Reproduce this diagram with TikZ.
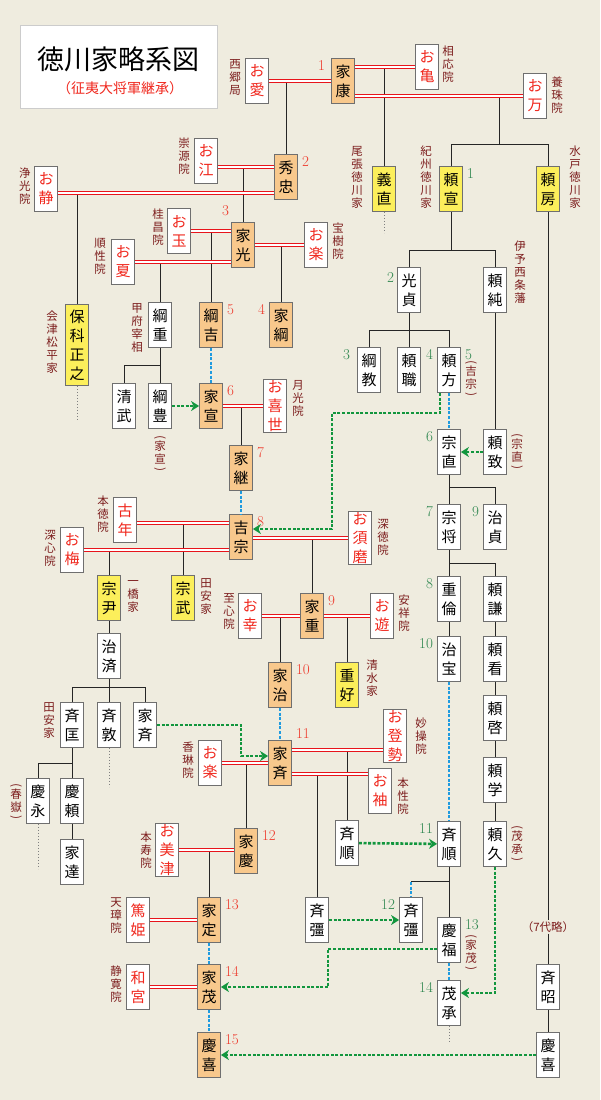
\documentclass[tikz,border=0pt]{standalone}
\usepackage{fontspec}
\newfontfamily\jp{Noto Sans CJK JP}
\usepackage{graphicx}
\usepackage{tikz}
\usetikzlibrary{arrows.meta,positioning,calc}
\usepackage{xcolor}
\definecolor{bgcol}{HTML}{EFECDF}
\definecolor{shogunfill}{HTML}{F8C88C}
\definecolor{branchfill}{HTML}{FCEF5B}
\definecolor{boxgray}{HTML}{6F6F6F}
\definecolor{wifered}{HTML}{F0281E}
\definecolor{lblred}{HTML}{7D1E1E}
\definecolor{numred}{HTML}{EE3A2C}
\definecolor{numgreen}{HTML}{2F8750}
\definecolor{coupred}{HTML}{E8141B}
\definecolor{succblue}{HTML}{1F9BDF}
\definecolor{adoptgreen}{HTML}{12963E}
\newcommand{\vopen}{\rotatebox{90}{)}}
\newcommand{\vclose}{\rotatebox{90}{(}}

\begin{document}
\begin{tikzpicture}[
			x=1pt, y=-1pt,
			box/.style={draw=boxgray, line width=0.8pt, fill=white, minimum width=23pt, minimum height=45pt, inner sep=1pt, align=center, font=\jp\fontsize{15}{19}\selectfont},
			shogun/.style={box, fill=shogunfill},
			branch/.style={box, fill=branchfill},
			wife/.style={box, text=wifered},
			lbl/.style={text=lblred, align=center, inner sep=1pt, font=\jp\fontsize{11.5}{13}\selectfont},
			num/.style={text=numred, inner sep=1pt, font=\fontsize{15}{15}\selectfont},
			knum/.style={num, text=numgreen},
			numR/.style={label={[num,anchor=north west,xshift=3pt,yshift=-1pt]north east:#1}},
			numL/.style={label={[num,anchor=north east,xshift=-3pt,yshift=-1pt]north west:#1}},
			knumR/.style={label={[knum,anchor=north west,xshift=3pt,yshift=-1pt]north east:#1}},
			knumL/.style={label={[knum,anchor=north east,xshift=-3pt,yshift=-1pt]north west:#1}},
			titlebox/.style={draw=black!20, fill=white, minimum width=197pt, minimum height=83pt},
			line/.style={draw=black!85, line width=0.9pt},
			couple/.style={draw=coupred, line width=1pt, double=white, double distance=1.2pt},
			succ/.style={draw=succblue, line width=2.6pt, dash pattern=on 3pt off 1.6pt},
			adopt/.style={draw=adoptgreen, line width=2.6pt, dash pattern=on 3pt off 1.6pt, -{Stealth[length=8pt,width=10pt,inset=2.5pt]}},
			cont/.style={draw=black!50, line width=1pt, dash pattern=on 1pt off 2pt}
			]
			\useasboundingbox (0,0) rectangle (600,1100);
			\fill[bgcol] (0,0) rectangle (600,1100);
			
			\node[titlebox] (title) at (118.5,66.5) {};
			\node[font=\jp\fontsize{27}{30}\selectfont] (titletext) at (118.5,59.5) {徳川家略系図};
			\node[text=wifered, font=\jp\fontsize{14}{16}\selectfont] (subtitle) at (120,88) {（征夷大将軍継承）};
			
			\node[shogun, label={[num,anchor=north east,xshift=-5pt,yshift=-1pt]north west:1}] (ieyasu) at (343,81) {家\\康};
			\node[shogun, numR=2] (hidetada) at (286,177) {秀\\忠};
			\node[shogun, label={[num,anchor=south east,xshift=-1pt,yshift=5pt]north west:3}] (iemitsu) at (243,245) {家\\光};
			\node[shogun, numL=4] (ietsuna) at (281,325) {家\\綱};
			\node[shogun, numR=5] (tsunayoshi) at (211,325) {綱\\吉};
			\node[shogun, numR=6] (ienobu) at (211,406) {家\\宣};
			\node[shogun, numR=7] (ietsugu) at (241,468) {家\\継};
			\node[shogun, numR=8] (yoshimune) at (241,537) {吉\\宗};
			\node[shogun, numR=9] (ieshige) at (312,616) {家\\重};
			\node[shogun, numR=10] (ieharu) at (280,685) {家\\治};
			\node[shogun, label={[num,anchor=south west,xshift=3pt]north east:11}] (ienari) at (280,763) {家\\斉};
			\node[shogun, numR=12] (ieyoshi) at (246,851) {家\\慶};
			\node[shogun, numR=13] (iesada) at (209,920) {家\\定};
			\node[shogun, numR=14] (iemochi) at (209,987) {家\\茂};
			\node[shogun, numR=15] (yoshinobu) at (209,1055) {慶\\喜};
			
			\node[branch] (yoshinao) at (384,189) {義\\直};
			\node[branch, knumR=1] (yorinobu) at (451,189) {頼\\宣};
			\node[branch] (yorifusa) at (548,189) {頼\\房};
			\node[branch, minimum height=81pt] (masayuki) at (77,345) {保\\科\\正\\之};
			\node[branch] (munetada) at (109,598) {宗\\尹};
			\node[branch] (munetake) at (183,598) {宗\\武};
			\node[branch] (shigeyoshi) at (347,685) {重\\好};
			
			\node[wife] (oai) at (257,81) {お\\愛};
			\node[wife] (okame) at (427,67) {お\\亀};
			\node[wife] (oman) at (535,96) {お\\万};
			\node[wife] (oe) at (206,161) {お\\江};
			\node[wife] (oshizu) at (46,189) {お\\静};
			\node[wife] (otama) at (179,231) {お\\玉};
			\node[wife] (onatsu) at (123,262) {お\\夏};
			\node[wife] (oraku) at (316,245) {お\\楽};
			\node[wife] (okiyo) at (275,406) {お\\喜\\世};
			\node[wife] (konen) at (125,520) {古\\年};
			\node[wife] (oume) at (72,550) {お\\梅};
			\node[wife] (osuma) at (360,538) {お\\須\\磨};
			\node[wife] (okou) at (250,616) {お\\幸};
			\node[wife] (oyuu) at (382,616) {お\\遊};
			\node[wife] (oraku2) at (210,763) {お\\楽};
			\node[wife] (otose) at (395,736) {お\\登\\勢};
			\node[wife] (osode) at (380,791) {お\\袖};
			\node[wife] (omitsu) at (167,850) {お\\美\\津};
			\node[wife] (atsuhime) at (138,920) {篤\\姫};
			\node[wife] (kazunomiya) at (138,987) {和\\宮};
			
			\node[box] (tsunashige) at (160,325) {綱\\重};
			\node[box] (kiyotake) at (124,406) {清\\武};
			\node[box] (tsunatoyo) at (160,406) {綱\\豊};
			\node[box] (harunari) at (109,656) {治\\済};
			\node[box] (narimasa) at (72,725) {斉\\匡};
			\node[box] (naritoshi) at (109,725) {斉\\敦};
			\node[box] (ienari0) at (145,725) {家\\斉};
			\node[box] (yoshinaga) at (38,801) {慶\\永};
			\node[box] (yoshiyori) at (72,801) {慶\\頼};
			\node[box] (iesato) at (72,862) {家\\達};
			\node[box] (nariyuki0) at (347,843) {斉\\順};
			\node[box] (narikatsu0) at (317,920) {斉\\彊};
			
			\node[box, label={[knum,anchor=north east,xshift=-2pt,yshift=-4pt]north west:2}] (mitsusada) at (409,290) {光\\貞};
			\node[box] (yorizumi) at (495,290) {頼\\純};
			\node[box, label={[knum,anchor=north east,xshift=-6pt,yshift=-1pt]north west:3}] (tsunanori) at (369,370) {綱\\教};
			\node[box] (yorimoto) at (409,370) {頼\\職};
			\node[box, knumL=4, knumR=5] (yorikata) at (449,370) {頼\\方};
			\node[box, knumL=6] (munenao) at (449,452) {宗\\直};
			\node[box] (yorimichi) at (495,452) {頼\\致};
			\node[box, knumL=7] (munenobu) at (449,527) {宗\\将};
			\node[box, knumL=9] (harusada) at (495,527) {治\\貞};
			\node[box, knumL=8] (shigenori) at (449,599) {重\\倫};
			\node[box] (yorikane) at (495,599) {頼\\謙};
			\node[box, knumL=10] (harutomi) at (449,659) {治\\宝};
			\node[box] (yorimi) at (495,659) {頼\\看};
			\node[box] (yorihiro) at (495,718) {頼\\啓};
			\node[box] (yorinori) at (495,780) {頼\\学};
			\node[box, knumL=11] (nariyuki) at (449,844) {斉\\順};
			\node[box] (yorihisa) at (495,844) {頼\\久};
			\node[box, knumL=12] (narikatsu) at (411,920) {斉\\彊};
			\node[box, knumR=13] (yoshitomi) at (449,940) {慶\\福};
			\node[box, knumL=14] (mochitsugu) at (449,1003) {茂\\承};
			\node[box] (nariaki) at (548,987) {斉\\昭};
			\node[box] (yoshinobu0) at (548,1055) {慶\\喜};
			
			\node[lbl] (saigo) at (235,78) {西\\郷\\局};
			\node[lbl] (soo) at (448,64) {相\\応\\院};
			\node[lbl] (yoju) at (557,95) {養\\珠\\院};
			\node[lbl] (sugen) at (184,156) {崇\\源\\院};
			\node[lbl] (joko) at (25,186) {浄\\光\\院};
			\node[lbl] (keisho) at (158,227) {桂\\昌\\院};
			\node[lbl] (junsho) at (100,256) {順\\性\\院};
			\node[lbl] (hoju) at (338,241) {宝\\樹\\院};
			\node[lbl] (owari) at (357,177) {尾\\張\\徳\\川\\家};
			\node[lbl] (kishu) at (426,177) {紀\\州\\徳\\川\\家};
			\node[lbl] (mito) at (575,177) {水\\戸\\徳\\川\\家};
			\node[lbl] (iyo) at (520,272) {伊\\予\\西\\条\\藩};
			\node[lbl] (aizu) at (52,342) {会\\津\\松\\平\\家};
			\node[lbl] (kofu) at (137,328) {甲\\府\\宰\\相};
			\node[lbl] (p-ienobu) at (160,454) {\vopen\\[-2pt]家\\宣\\[-5pt]\vclose};
			\node[lbl] (gekko) at (298,398) {月\\光\\院};
			\node[lbl] (hontoku) at (103,514) {本\\徳\\院};
			\node[lbl] (shinshin) at (50,548) {深\\心\\院};
			\node[lbl] (shintoku) at (383,537) {深\\徳\\院};
			\node[lbl] (tayasu) at (206,597) {田\\安\\家};
			\node[lbl] (hitotsu) at (133,596) {一\\橋\\家};
			\node[lbl] (shishin) at (229,611) {至\\心\\院};
			\node[lbl] (anjo) at (404,613) {安\\祥\\院};
			\node[lbl] (shimizu) at (372,678) {清\\水\\家};
			\node[lbl] (tayasu2) at (49,721) {田\\安\\家};
			\node[lbl] (p-shungaku) at (16,802) {\vopen\\[-2pt]春\\嶽\\[-5pt]\vclose};
			\node[lbl] (korin) at (188,760) {香\\琳\\院};
			\node[lbl] (myoso) at (421,736) {妙\\操\\院};
			\node[lbl] (honsho) at (403,796) {本\\性\\院};
			\node[lbl] (honju) at (146,850) {本\\寿\\院};
			\node[lbl] (tensho) at (116,916) {天\\璋\\院};
			\node[lbl] (seikan) at (116,984) {静\\寛\\院};
			\node[lbl] (p-yoshimune) at (471,379) {\vopen\\[-2pt]吉\\宗\\[-5pt]\vclose};
			\node[lbl] (p-munenao) at (517,452) {\vopen\\[-2pt]宗\\直\\[-5pt]\vclose};
			\node[lbl] (p-mochitsugu) at (517,844) {\vopen\\[-2pt]茂\\承\\[-5pt]\vclose};
			\node[lbl] (p-iemochi) at (471,953) {\vopen\\[-2pt]家\\茂\\[-5pt]\vclose};
			\node[lbl] (ryaku) at (548,927) {（7代略）};
			
			\coordinate (m-oe) at ([yshift=-6pt]oe.east);
			\coordinate (m-oshizu) at ([yshift=-4pt]oshizu.east);
			\coordinate (m-konen) at ([yshift=-3pt]konen.east);
			\coordinate (m-otose) at ([yshift=-14pt]otose.west);
			\coordinate (m-osode) at ([yshift=17pt]osode.west);
			\coordinate (kf) at ($(yorinobu.north)!.5!(yorifusa.north)+(0,-22)$);
			\coordinate (nf) at ($(nariyuki.south)+(0,15)$);
			
			\draw[line] (hidetada.north) -- (hidetada.north |- oai.east);
			\draw[line] (yoshinao.north) -- (yoshinao.north |- okame.west);
			\draw[line] (kf |- oman.west) -- (kf);
			\draw[line] (yorinobu.north) |- (kf) -| (yorifusa.north);
			\draw[line] (iemitsu.north) -- (iemitsu.north |- m-oe);
			\draw[line] (masayuki.north) -- (masayuki.north |- m-oshizu);
			\draw[line] (tsunayoshi.north) -- (tsunayoshi.north |- otama.east);
			\draw[line] (tsunashige.north) -- (tsunashige.north |- onatsu.east);
			\draw[line] (ietsuna.north) -- (ietsuna.north |- oraku.west);
			\draw[line] (tsunashige) -- (tsunatoyo);
			\draw[line] (kiyotake.north) |- ($(tsunashige.south)!.5!(tsunatoyo.north)$);
			\draw[line] (ietsugu.north) -- (ietsugu.north |- okiyo.west);
			\draw[line] (munetake.north) -- (munetake.north |- m-konen);
			\draw[line] (munetada.north) -- (munetada.north |- oume.east);
			\draw[line] (ieshige.north) -- (ieshige.north |- osuma.west);
			\draw[line] (munetada) -- (harunari);
			\draw[line] (harunari) -- (naritoshi);
			\draw[line] (narimasa.north) |- ($(harunari.south)+(0,9)$) -| (ienari0.north);
			\draw[line] (narimasa) -- (yoshiyori);
			\draw[line] (yoshinaga.north) |- ($(narimasa.south)+(0,16)$);
			\draw[line] (yoshiyori) -- (iesato);
			\draw[line] (ieharu.north) -- (ieharu.north |- okou.east);
			\draw[line] (shigeyoshi.north) -- (shigeyoshi.north |- oyuu.west);
			\draw[line] (ieyoshi.north) -- (ieyoshi.north |- oraku2.east);
			\draw[line] (nariyuki0.north) -- (nariyuki0.north |- m-otose);
			\draw[line] (narikatsu0.north) -- (narikatsu0.north |- m-osode);
			\draw[line] (iesada.north) -- (iesada.north |- omitsu.east);
			\draw[line] (yorinobu) -- ($(yorinobu.south)+(0,39)$);
			\draw[line] (mitsusada.north) |- ($(yorinobu.south)+(0,39)$) -| (yorizumi.north);
			\draw[line] (mitsusada) -- (yorimoto);
			\draw[line] (tsunanori.north) |- ($(mitsusada.south)+(0,18)$) -| (yorikata.north);
			\draw[line] (yorizumi) -- (yorimichi);
			\draw[line] (munenao) -- (munenobu);
			\draw[line] ($(munenao.south)+(0,13)$) -| (harusada.north);
			\draw[line] (munenobu) -- (shigenori);
			\draw[line] ($(munenobu.south)+(0,14)$) -| (yorikane.north);
			\draw[line] (shigenori) -- (harutomi);
			\draw[line] (yorikane) -- (yorimi);
			\draw[line] (yorimi) -- (yorihiro);
			\draw[line] (yorihiro) -- (yorinori);
			\draw[line] (yorinori) -- (yorihisa);
			\draw[line] (nariyuki) -- (yoshitomi);
			\draw[line] (nf) -- (nf -| narikatsu.north);
			\draw[line] (yorifusa) -- (ryaku);
			\draw[line] (ryaku) -- (nariaki);
			\draw[line] (nariaki) -- (yoshinobu0);
			
			\draw[couple] (oai) -- (ieyasu);
			\draw[couple] (okame.west) -- (okame.west -| ieyasu.east);
			\draw[couple] (oman.west) -- (oman.west -| ieyasu.east);
			\draw[couple] (m-oe) -- (m-oe -| hidetada.west);
			\draw[couple] (m-oshizu) -- (m-oshizu -| hidetada.west);
			\draw[couple] (otama.east) -- (otama.east -| iemitsu.west);
			\draw[couple] (onatsu.east) -- (onatsu.east -| iemitsu.west);
			\draw[couple] (iemitsu) -- (oraku);
			\draw[couple] (ienobu) -- (okiyo);
			\draw[couple] (m-konen) -- (m-konen -| yoshimune.west);
			\draw[couple] (oume.east) -- (oume.east -| yoshimune.west);
			\draw[couple] (osuma.west) -- (osuma.west -| yoshimune.east);
			\draw[couple] (okou) -- (ieshige);
			\draw[couple] (ieshige) -- (oyuu);
			\draw[couple] (oraku2) -- (ienari);
			\draw[couple] (m-otose) -- (m-otose -| ienari.east);
			\draw[couple] (m-osode) -- (m-osode -| ienari.east);
			\draw[couple] (omitsu.east) -- (omitsu.east -| ieyoshi.west);
			\draw[couple] (atsuhime) -- (iesada);
			\draw[couple] (kazunomiya) -- (iemochi);
			
			\draw[succ] (tsunayoshi) -- (ienobu);
			\draw[succ] (ietsugu) -- (yoshimune);
			\draw[succ] (ieharu) -- (ienari);
			\draw[succ] (iesada) -- (iemochi);
			\draw[succ] (iemochi) -- (yoshinobu);
			\draw[succ] (yorikata) -- (munenao);
			\draw[succ] (harutomi) -- (nariyuki);
			\draw[succ] (yoshitomi) -- (mochitsugu);
			\draw[succ] (nf -| narikatsu.north) -- (narikatsu.north);
			
			\draw[adopt] (tsunatoyo) -- (ienobu);
			\draw[adopt] ([xshift=-9pt]yorikata.south) -- ++(0,20) -- ++(-108,0) |- ([yshift=8pt]yoshimune.east);
			\draw[adopt] (yorimichi) -- (munenao);
			\draw[adopt] (ienari0.east) -- ++(84,0) |- ([yshift=7pt]ienari.west);
			\draw[adopt] (nariyuki0) -- (nariyuki);
			\draw[adopt] (narikatsu0) -- (narikatsu);
			\draw[adopt] ([yshift=-9pt]yoshitomi.west) -- ++(-109,0) |- (iemochi.east);
			\draw[adopt] (yorihisa.south) |- ([yshift=10pt]mochitsugu.east);
			\draw[adopt] (yoshinobu0) -- (yoshinobu);
			
			\draw[cont] (yoshinao.south) -- ++(0,21);
			\draw[cont] (masayuki.south) -- ++(0,35);
			\draw[cont] (naritoshi.south) -- ++(0,39);
			\draw[cont] (yoshinaga.south) -- ++(0,45);
			\draw[cont] (mochitsugu.south) -- ++(0,16);
		\end{tikzpicture}
\end{document}
